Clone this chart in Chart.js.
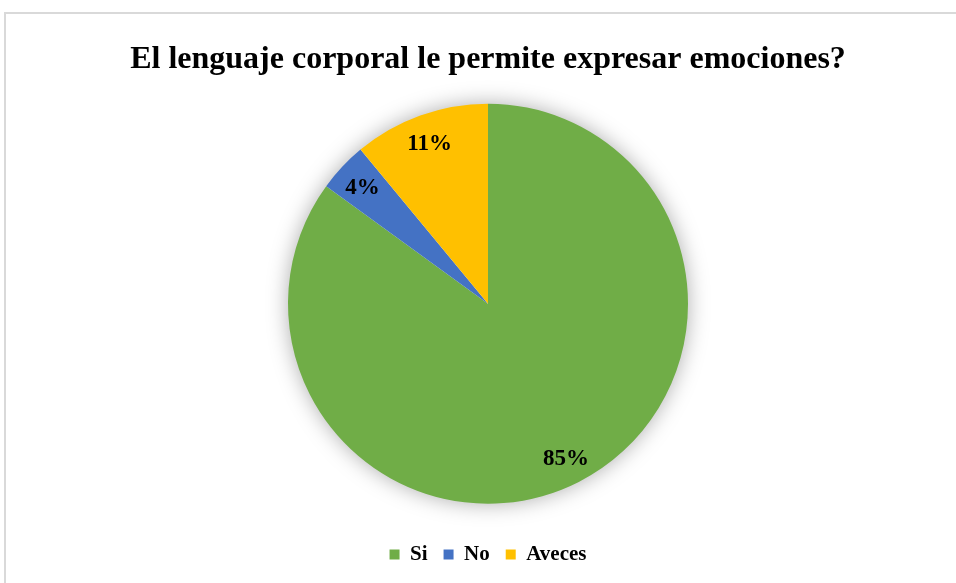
<!DOCTYPE html>
<html>
<head>
<meta charset="utf-8">
<script src="https://cdn.jsdelivr.net/npm/chart.js@4"></script>
<style>
  html, body { margin: 0; padding: 0; background: #fff; }
  .frame {
    position: absolute; left: 4px; top: 12px; width: 960px; height: 580px;
    border-top: 2px solid #d9d9d9; border-left: 2px solid #d9d9d9;
  }
  #wrap { position: absolute; left: 0; top: 0; width: 956px; height: 583px; }
</style>
</head>
<body>
<div class="frame"></div>
<div id="wrap"><canvas id="myChart"></canvas></div>
<script>
/******** data */
const categories = ["Si", "No", "Aveces"];
const percentages = [85, 4, 11];
const sliceColors = ["#70ad47", "#4472c4", "#ffc000"];
const chartTitle = "El lenguaje corporal le permite expresar emociones?";

const serif = "'Liberation Serif', 'Times New Roman', serif";

/******** soft shadow behind the pie */
const pieShadow = {
  id: "pieShadow",
  beforeDatasetsDraw(chart) {
    const arc = chart.getDatasetMeta(0).data[0];
    if (!arc) return;
    const ctx = chart.ctx;
    ctx.save();
    ctx.shadowColor = "rgba(0,0,0,0.35)";
    ctx.shadowBlur = 22;
    ctx.fillStyle = "#ffffff";
    ctx.beginPath();
    ctx.arc(arc.x, arc.y, arc.outerRadius - 1, 0, Math.PI * 2);
    ctx.fill();
    ctx.restore();
  }
};

/******** percent labels inside slices */
const sliceLabels = {
  id: "sliceLabels",
  afterDatasetsDraw(chart) {
    const ctx = chart.ctx;
    const meta = chart.getDatasetMeta(0);
    ctx.save();
    ctx.font = "bold 23px " + serif;
    ctx.fillStyle = "#000";
    ctx.textAlign = "center";
    ctx.textBaseline = "alphabetic";
    meta.data.forEach((arc, i) => {
      const mid = (arc.startAngle + arc.endAngle) / 2;
      const r = arc.outerRadius * 0.86;
      // baseline sits about half a digit height below the label centre
      ctx.fillText(percentages[i] + "%", arc.x + Math.cos(mid) * r, arc.y + Math.sin(mid) * r + 8);
    });
    ctx.restore();
  }
};

const ctx = document.getElementById("myChart");
new Chart(ctx, {
  type: "pie",
  data: {
    labels: categories,
    datasets: [
      {
        data: percentages,
        backgroundColor: sliceColors,
        borderWidth: 0,
        radius: 200,
      },
    ],
  },
  options: {
    responsive: true,
    maintainAspectRatio: false,
    animation: false,
    layout: { padding: { top: 41, bottom: 8, left: 20 } },
    plugins: {
      title: {
        display: true,
        text: chartTitle,
        color: "#000",
        font: { family: serif, size: 32, weight: "bold" },
        padding: { top: 0, bottom: 0 },
      },
      legend: {
        position: "bottom",
        labels: {
          color: "#000",
          font: { family: serif, size: 21, weight: "bold" },
          boxWidth: 10,
          boxHeight: 10,
          padding: 16,
        },
      },
      tooltip: { enabled: false },
    },
  },
  plugins: [pieShadow, sliceLabels],
});
</script>
</body>
</html>
